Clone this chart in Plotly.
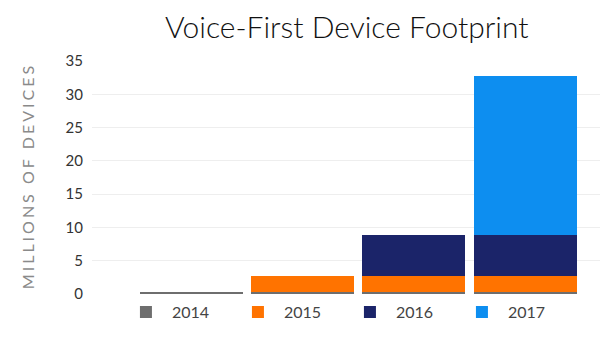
import plotly.graph_objects as go

# Bars (one per year) and the device cohorts stacked inside them
categories = ["2014", "2015", "2016", "2017"]
series_names = ["2014", "2015", "2016", "2017"]
series_values = [
    [0.3, 0.3, 0.3, 0.3],
    [0.0, 2.4, 2.4, 2.4],
    [0.0, 0.0, 6.2, 6.2],
    [0.0, 0.0, 0.0, 23.9],
]
series_colors = ["#6e6e6e", "#ff7300", "#1b2469", "#0d8ef0"]
y_ticks = [0, 5, 10, 15, 20, 25, 30, 35]

FONT = "Lato"
# axis title drawn with widened letter spacing (thin + hair spaces)
y_title = "\u2009\u200a".join("MILLIONS OF DEVICES")

fig = go.Figure()
for name, vals, color in zip(series_names, series_values, series_colors):
    fig.add_trace(go.Bar(
        x=categories, y=vals, name=name,
        marker=dict(color=color, line=dict(width=0)),
        hoverinfo="skip",
    ))

fig.update_layout(
    width=600, height=340,
    barmode="stack",
    bargap=0.074,
    paper_bgcolor="white",
    plot_bgcolor="white",
    margin=dict(l=92, r=0, t=61, b=46, autoexpand=False),
    font=dict(family=FONT, color="#333333"),
    title=dict(
        text="Voice-First Device Footprint",
        font=dict(family=FONT, size=30, color="#111111", weight=300),
        x=0.578, xanchor="center", y=0.92, yanchor="middle",
    ),
    xaxis=dict(
        type="category",
        range=[-0.895, 3.674],
        showticklabels=False,
        showgrid=False,
        zeroline=False,
        showline=False,
        ticks="",
    ),
    yaxis=dict(
        range=[0, 35],
        tickvals=y_ticks,
        tickfont=dict(family=FONT, size=15, color="#333333"),
        gridcolor="#eeeeee",
        gridwidth=1,
        zeroline=False,
        showline=False,
        ticks="",
        ticklabelstandoff=8,
        title=dict(
            text=y_title,
            font=dict(family=FONT, size=16, color="#8a8a8a"),
            standoff=26,
        ),
    ),
    showlegend=True,
    legend=dict(
        orientation="h",
        x=0.055, xanchor="left",
        y=-0.078, yanchor="middle",
        font=dict(family=FONT, size=16, color="#444444"),
        itemwidth=42,
        entrywidth=55, entrywidthmode="pixels",
        traceorder="normal",
        bgcolor="rgba(0,0,0,0)",
    ),
)

fig.write_html("out.html")
